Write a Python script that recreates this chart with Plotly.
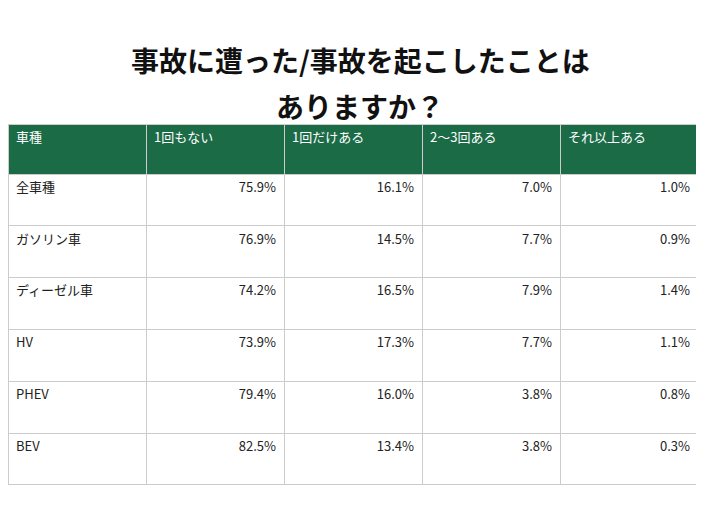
import plotly.graph_objects as go

headers = ["車種", "1回もない", "1回だけある", "2〜3回ある", "それ以上ある"]
types = ["全車種", "ガソリン車", "ディーゼル車", "HV", "PHEV", "BEV"]
never = [75.9, 76.9, 74.2, 73.9, 79.4, 82.5]
once = [16.1, 14.5, 16.5, 17.3, 16.0, 13.4]
two_three = [7.0, 7.7, 7.9, 7.7, 3.8, 3.8]
more = [1.0, 0.9, 1.4, 1.1, 0.8, 0.3]

fmt = lambda a: [f"{v:.1f}%" for v in a]
font = "Noto Sans CJK JP"

fig = go.Figure(go.Table(
    domain=dict(x=[0, 690/704], y=[0, 1-116/528]),
    columnwidth=[1, 1, 1, 1, 1],
    header=dict(values=headers, fill_color="#1b6b47", line_color="#cccccc",
                font=dict(color="white", size=13, family=font), align="left", height=50),
    cells=dict(values=[types, fmt(never), fmt(once), fmt(two_three), fmt(more)],
               fill_color="white", line_color="#cccccc",
               font=dict(color="#222222", size=13, family=font),
               align=["left", "right", "right", "right", "right"], height=51.8),
))
fig.update_layout(
    width=704, height=528, margin=dict(l=0, r=0, t=0, b=0),
    paper_bgcolor="white",
    annotations=[
        dict(text="<b>事故に遭った/事故を起こしたことは</b>", x=0.5, y=1-30/528,
             xref="paper", yref="paper", showarrow=False,
             font=dict(size=28, family=font, color="#111111")),
        dict(text="<b>ありますか？</b>", x=0.5, y=1-76/528,
             xref="paper", yref="paper", showarrow=False,
             font=dict(size=28, family=font, color="#111111")),
    ],
)
fig.write_html("out.html")
